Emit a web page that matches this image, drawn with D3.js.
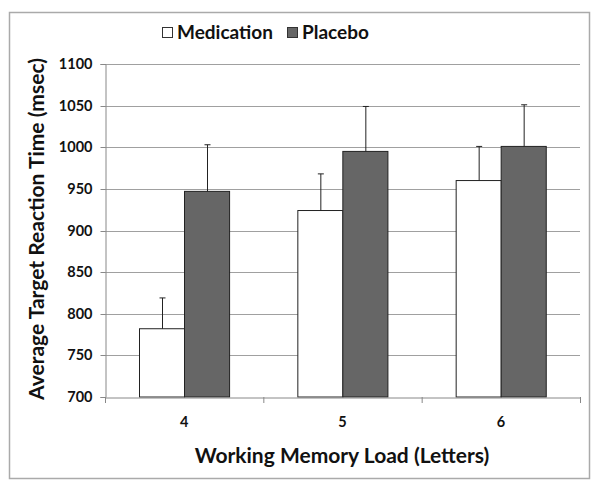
<!DOCTYPE html>
<html><head><meta charset="utf-8">
<script src="https://cdn.jsdelivr.net/npm/d3@7"></script>
<style>body{margin:0;background:#fff}svg{display:block}text{font-family:Lato,"Open Sans",sans-serif;font-weight:bold;fill:#111}</style>
</head><body><svg id="c" width="600" height="490"></svg>
<script>
const categories = ["4","5","6"];
const series = ["Medication","Placebo"];
const medication = [782, 924, 960];
const placebo = [947, 995, 1001];
const medicationErr = [37, 44, 41];
const placeboErr = [56, 54, 50];
const yTicks = [700,750,800,850,900,950,1000,1050,1100];

const svg = d3.select("#c");
svg.append("rect").attr("x",9.5).attr("y",12.5).attr("width",580).attr("height",466)
  .attr("fill","#fff").attr("stroke","#aaa").attr("stroke-width",1.5);

const m = {l:105, r:580, t:64, b:397};
const x = d3.scaleBand().domain(categories).range([m.l,m.r]).paddingInner(0).paddingOuter(0);
const x1 = d3.scaleBand().domain(series).range([0,x.bandwidth()]).paddingInner(0).paddingOuter(0.756);
const y = d3.scaleLinear().domain([700,1100]).range([m.b,m.t]);

// gridlines
svg.append("g").selectAll("line").data(yTicks.slice(1)).join("line")
  .attr("x1",m.l).attr("x2",m.r).attr("y1",d=>Math.round(y(d))+0.5).attr("y2",d=>Math.round(y(d))+0.5)
  .attr("stroke","#a0a0a0").attr("stroke-width",1);

// y axis
const ya = svg.append("g").attr("transform",`translate(${m.l+0.5},0)`)
  .call(d3.axisLeft(y).tickValues(yTicks).tickFormat(d3.format("d")).tickSize(5).tickPadding(8));
ya.select(".domain").attr("stroke","#888");
ya.selectAll(".tick line").attr("stroke","#888");
ya.selectAll("text").style("font-size","14.5px").attr("fill","#111");
ya.selectAll(".tick").attr("transform",d=>`translate(0,${Math.round(y(d))+0.5})`);

// bars
const data = categories.map((c,i)=>({c, vals:[
  {s:"Medication", v:medication[i], e:medicationErr[i]},
  {s:"Placebo", v:placebo[i], e:placeboErr[i]}]}));
const color = {Medication:"#ffffff", Placebo:"#666666"};
const g = svg.append("g").selectAll("g").data(data).join("g")
  .attr("transform",d=>`translate(${x(d.c)},0)`);
g.selectAll("rect").data(d=>d.vals).join("rect")
  .attr("x",d=>Math.round(x1(d.s))+0.5).attr("width",x1.bandwidth())
  .attr("y",d=>y(d.v)).attr("height",d=>y(700)-y(d.v))
  .attr("fill",d=>color[d.s]).attr("stroke","#222").attr("stroke-width",1);
// error bars
g.selectAll("path.err").data(d=>d.vals).join("path").attr("class","err")
  .attr("d",d=>{const cx=Math.round(x1(d.s)+x1.bandwidth()/2)+0.5; const y0=y(d.v), y1=y(d.v+d.e);
    return `M${cx},${y0}V${y1}M${cx-3},${y1}H${cx+3}`;})
  .attr("stroke","#222").attr("stroke-width",1).attr("fill","none");

// x axis
const xa = svg.append("g").attr("transform",`translate(0,${m.b+0.5})`)
  .call(d3.axisBottom(x).tickSize(0).tickPadding(19));
xa.select(".domain").attr("stroke","#888");
xa.selectAll("text").style("font-size","14.5px").attr("fill","#111");
svg.append("g").selectAll("line").data([...categories.map(c=>x(c)), m.r]).join("line")
  .attr("x1",d=>d+0.5).attr("x2",d=>d+0.5).attr("y1",m.b).attr("y2",m.b+6).attr("stroke","#888");

// titles
svg.append("text").attr("x",342).attr("y",463).attr("text-anchor","middle").style("font-size","21px")
  .text("Working Memory Load (Letters)");
svg.append("text").attr("transform",`translate(44,229) rotate(-90)`).attr("text-anchor","middle").style("font-size","21px")
  .text("Average Target Reaction Time (msec)");

// legend
const leg = svg.append("g");
const legX = [162, 287];
series.forEach((s,i)=>{
  leg.append("rect").attr("x",legX[i]+0.5).attr("y",27.5).attr("width",10).attr("height",10)
    .attr("fill",color[s]).attr("stroke","#333");
  leg.append("text").attr("x",legX[i]+15).attr("y",39).style("font-size","19px").text(s);
});
</script></body></html>
